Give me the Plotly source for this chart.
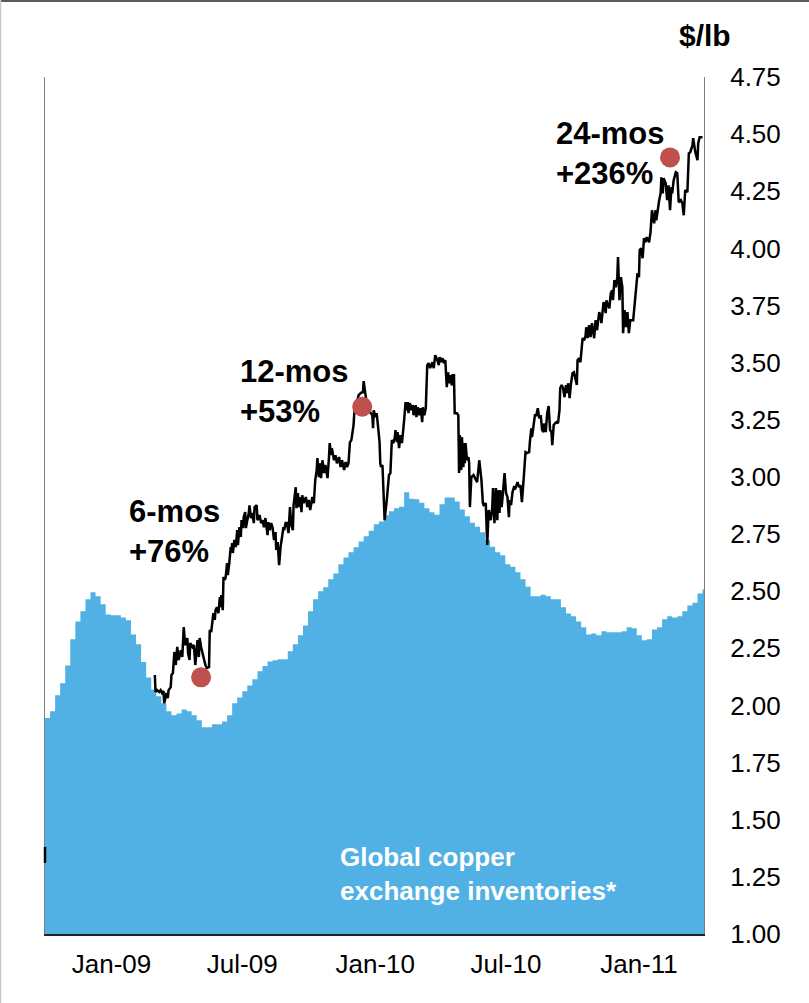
import pandas as pd
import plotly.graph_objects as go

# ---------------- data ----------------
# Global copper exchange inventories, weekly (thousand tonnes, hidden left axis)
inv_start = "2008-10-01"
inventory_kt = [
    378, 390, 418, 439, 470, 516, 547, 565, 586, 598,
    591, 577, 559, 558, 558, 554, 549, 524, 507, 476,
    449, 428, 416, 404, 390, 383, 386, 393, 390, 383,
    374, 362, 362, 367, 367, 372, 383, 404, 414, 425,
    435, 446, 460, 469, 477, 479, 481, 481, 495, 507,
    523, 540, 565, 586, 600, 607, 621, 631, 647, 659,
    668, 677, 687, 696, 706, 717, 722, 733, 740, 745,
    748, 773, 762, 761, 755, 745, 738, 734, 752, 764,
    764, 757, 743, 731, 720, 713, 703, 689, 678, 668,
    663, 647, 643, 633, 621, 608, 591, 591, 594, 591,
    586, 586, 572, 561, 556, 547, 537, 524, 526, 523,
    530, 528, 528, 528, 530, 537, 535, 523, 514, 516,
    533, 537, 551, 556, 554, 556, 565, 575, 580, 596,
    603, 603,
]
inventory_dates = pd.date_range(inv_start, periods=len(inventory_kt), freq="7D")

# Copper price ($/lb)
price_dates = [
    "2009-03-02", "2009-03-03", "2009-03-05", "2009-03-08", "2009-03-10", "2009-03-12", "2009-03-14", "2009-03-15",
    "2009-03-18", "2009-03-20", "2009-03-21", "2009-03-24", "2009-03-25", "2009-03-27", "2009-03-29", "2009-03-31",
    "2009-04-02", "2009-04-04", "2009-04-07", "2009-04-09", "2009-04-11", "2009-04-13", "2009-04-16", "2009-04-17",
    "2009-04-19", "2009-04-20", "2009-04-23", "2009-04-25", "2009-04-27", "2009-04-30", "2009-05-02", "2009-05-03",
    "2009-05-05", "2009-05-07", "2009-05-09", "2009-05-11", "2009-05-13", "2009-05-16", "2009-05-17", "2009-05-19",
    "2009-05-22", "2009-05-24", "2009-05-25", "2009-05-27", "2009-05-29", "2009-05-31", "2009-06-01", "2009-06-02",
    "2009-06-04", "2009-06-05", "2009-06-07", "2009-06-08", "2009-06-10", "2009-06-11", "2009-06-13", "2009-06-15",
    "2009-06-16", "2009-06-17", "2009-06-18", "2009-06-20", "2009-06-22", "2009-06-24", "2009-06-25", "2009-06-27",
    "2009-06-29", "2009-06-30", "2009-07-02", "2009-07-03", "2009-07-05", "2009-07-06", "2009-07-08", "2009-07-10",
    "2009-07-11", "2009-07-13", "2009-07-15", "2009-07-17", "2009-07-18", "2009-07-21", "2009-07-22", "2009-07-25",
    "2009-07-27", "2009-07-29", "2009-07-31", "2009-08-02", "2009-08-05", "2009-08-06", "2009-08-08", "2009-08-10",
    "2009-08-12", "2009-08-14", "2009-08-16", "2009-08-17", "2009-08-19", "2009-08-21", "2009-08-23", "2009-08-25",
    "2009-08-27", "2009-08-28", "2009-08-30", "2009-09-01", "2009-09-03", "2009-09-05", "2009-09-07", "2009-09-09",
    "2009-09-10", "2009-09-13", "2009-09-14", "2009-09-16", "2009-09-17", "2009-09-19", "2009-09-21", "2009-09-22",
    "2009-09-24", "2009-09-27", "2009-09-29", "2009-10-01", "2009-10-03", "2009-10-06", "2009-10-08", "2009-10-10",
    "2009-10-12", "2009-10-13", "2009-10-15", "2009-10-16", "2009-10-18", "2009-10-20", "2009-10-22", "2009-10-24",
    "2009-10-27", "2009-10-29", "2009-10-30", "2009-11-01", "2009-11-02", "2009-11-05", "2009-11-07", "2009-11-09",
    "2009-11-12", "2009-11-14", "2009-11-16", "2009-11-19", "2009-11-21", "2009-11-23", "2009-11-25", "2009-11-27",
    "2009-11-29", "2009-12-02", "2009-12-03", "2009-12-05", "2009-12-07", "2009-12-09", "2009-12-12", "2009-12-14",
    "2009-12-15", "2009-12-16", "2009-12-19", "2009-12-21", "2009-12-23", "2009-12-25", "2009-12-28", "2009-12-29",
    "2009-12-30", "2010-01-01", "2010-01-03", "2010-01-05", "2010-01-07", "2010-01-08", "2010-01-09", "2010-01-11",
    "2010-01-12", "2010-01-13", "2010-01-14", "2010-01-17", "2010-01-18", "2010-01-20", "2010-01-22", "2010-01-24",
    "2010-01-26", "2010-01-28", "2010-01-29", "2010-01-31", "2010-02-01", "2010-02-03", "2010-02-05", "2010-02-07",
    "2010-02-10", "2010-02-12", "2010-02-13", "2010-02-15", "2010-02-16", "2010-02-18", "2010-02-20", "2010-02-22",
    "2010-02-23", "2010-02-26", "2010-02-27", "2010-03-01", "2010-03-03", "2010-03-05", "2010-03-07", "2010-03-08",
    "2010-03-10", "2010-03-12", "2010-03-14", "2010-03-16", "2010-03-18", "2010-03-21", "2010-03-23", "2010-03-25",
    "2010-03-28", "2010-03-30", "2010-03-31", "2010-04-02", "2010-04-04", "2010-04-06", "2010-04-08", "2010-04-10",
    "2010-04-12", "2010-04-13", "2010-04-15", "2010-04-17", "2010-04-18", "2010-04-20", "2010-04-21", "2010-04-24",
    "2010-04-26", "2010-04-27", "2010-04-28", "2010-04-30", "2010-05-01", "2010-05-03", "2010-05-04", "2010-05-05",
    "2010-05-06", "2010-05-08", "2010-05-10", "2010-05-11", "2010-05-12", "2010-05-14", "2010-05-17", "2010-05-20",
    "2010-05-22", "2010-05-25", "2010-05-28", "2010-05-30", "2010-05-31", "2010-06-03", "2010-06-05", "2010-06-07",
    "2010-06-10", "2010-06-12", "2010-06-13", "2010-06-15", "2010-06-17", "2010-06-19", "2010-06-20", "2010-06-22",
    "2010-06-23", "2010-06-25", "2010-06-27", "2010-06-29", "2010-07-01", "2010-07-03", "2010-07-05", "2010-07-06",
    "2010-07-08", "2010-07-10", "2010-07-12", "2010-07-14", "2010-07-17", "2010-07-19", "2010-07-21", "2010-07-23",
    "2010-07-26", "2010-07-28", "2010-07-30", "2010-08-02", "2010-08-03", "2010-08-05", "2010-08-06", "2010-08-08",
    "2010-08-10", "2010-08-12", "2010-08-14", "2010-08-16", "2010-08-18", "2010-08-20", "2010-08-22", "2010-08-23",
    "2010-08-25", "2010-08-27", "2010-08-29", "2010-08-31", "2010-09-02", "2010-09-03", "2010-09-05", "2010-09-07",
    "2010-09-09", "2010-09-11", "2010-09-13", "2010-09-14", "2010-09-16", "2010-09-18", "2010-09-20", "2010-09-22",
    "2010-09-24", "2010-09-25", "2010-09-27", "2010-09-29", "2010-10-01", "2010-10-03", "2010-10-05", "2010-10-07",
    "2010-10-08", "2010-10-10", "2010-10-12", "2010-10-15", "2010-10-17", "2010-10-19", "2010-10-20", "2010-10-22",
    "2010-10-24", "2010-10-26", "2010-10-28", "2010-10-31", "2010-11-02", "2010-11-04", "2010-11-07", "2010-11-09",
    "2010-11-10", "2010-11-12", "2010-11-13", "2010-11-16", "2010-11-17", "2010-11-19", "2010-11-21", "2010-11-23",
    "2010-11-25", "2010-11-26", "2010-11-28", "2010-11-30", "2010-12-02", "2010-12-03", "2010-12-05", "2010-12-07",
    "2010-12-09", "2010-12-10", "2010-12-12", "2010-12-14", "2010-12-16", "2010-12-18", "2010-12-20", "2010-12-24",
    "2010-12-27", "2010-12-30", "2011-01-01", "2011-01-02", "2011-01-04", "2011-01-06", "2011-01-08", "2011-01-10",
    "2011-01-12", "2011-01-15", "2011-01-17", "2011-01-19", "2011-01-22", "2011-01-24", "2011-01-25", "2011-01-27",
    "2011-01-29", "2011-01-31", "2011-02-01", "2011-02-03", "2011-02-04", "2011-02-07", "2011-02-09", "2011-02-11",
    "2011-02-13", "2011-02-15", "2011-02-16", "2011-02-18", "2011-02-21", "2011-02-23", "2011-02-25", "2011-02-28",
    "2011-03-02", "2011-03-04", "2011-03-06", "2011-03-09", "2011-03-11", "2011-03-13", "2011-03-16", "2011-03-17",
    "2011-03-19", "2011-03-20", "2011-03-23", "2011-03-24", "2011-03-26", "2011-03-30",
]
price_usd_lb = [
    2.133, 2.059, 2.067, 2.059, 2.067, 2.054, 2.063, 2.010,
    2.054, 2.032, 2.067, 2.080, 2.133, 2.142, 2.234, 2.177,
    2.256, 2.199, 2.242, 2.212, 2.343, 2.264, 2.295, 2.229,
    2.199, 2.273, 2.256, 2.264, 2.177, 2.286, 2.212, 2.295,
    2.256, 2.229, 2.199, 2.177, 2.164, 2.168, 2.330, 2.321,
    2.404, 2.374, 2.417, 2.430, 2.404, 2.474, 2.430, 2.483,
    2.417, 2.562, 2.549, 2.562, 2.623, 2.570, 2.623, 2.693,
    2.671, 2.710, 2.667, 2.724, 2.693, 2.767, 2.702, 2.780,
    2.737, 2.811, 2.776, 2.824, 2.846, 2.776, 2.811, 2.842,
    2.876, 2.820, 2.842, 2.798, 2.868, 2.876, 2.811, 2.833,
    2.798, 2.811, 2.780, 2.820, 2.745, 2.802, 2.767, 2.798,
    2.776, 2.724, 2.759, 2.680, 2.715, 2.614, 2.693, 2.732,
    2.780, 2.767, 2.798, 2.798, 2.754, 2.868, 2.789, 2.767,
    2.876, 2.955, 2.863, 2.929, 2.868, 2.912, 2.846, 2.920,
    2.885, 2.912, 2.868, 2.899, 2.855, 2.912, 2.885, 2.986,
    3.030, 3.082, 2.999, 3.060, 2.995, 3.073, 3.017, 3.052,
    2.995, 3.087, 3.148, 3.095, 3.126, 3.073, 3.095, 3.060,
    3.087, 3.043, 3.073, 3.030, 3.065, 3.043, 3.060, 3.152,
    3.161, 3.227, 3.279, 3.305, 3.336, 3.358, 3.367, 3.371,
    3.367, 3.419, 3.349, 3.305, 3.292, 3.283, 3.270, 3.213,
    3.292, 3.262, 3.279, 3.218, 3.152, 3.060, 3.043, 3.052,
    2.973, 2.899, 2.811, 2.899, 2.955, 3.008, 3.017, 3.161,
    3.148, 3.170, 3.205, 3.152, 3.196, 3.126, 3.183, 3.148,
    3.248, 3.327, 3.292, 3.327, 3.279, 3.323, 3.292, 3.314,
    3.270, 3.314, 3.262, 3.305, 3.270, 3.301, 3.240, 3.305,
    3.270, 3.301, 3.489, 3.498, 3.476, 3.502, 3.476, 3.533,
    3.511, 3.489, 3.524, 3.502, 3.520, 3.498, 3.511, 3.393,
    3.458, 3.410, 3.445, 3.401, 3.445, 3.445, 3.279, 3.279,
    3.270, 3.017, 3.183, 3.030, 3.174, 3.043, 3.148, 3.060,
    3.148, 3.073, 3.087, 3.060, 2.868, 2.999, 3.008, 2.986,
    2.977, 3.073, 2.986, 2.885, 2.877, 2.885, 2.702, 2.855,
    2.811, 2.868, 2.951, 2.798, 2.951, 2.811, 2.942, 2.842,
    2.942, 2.868, 2.929, 3.017, 2.929, 2.912, 2.824, 2.899,
    2.877, 2.934, 2.955, 2.951, 2.977, 2.955, 2.964, 2.890,
    3.017, 3.108, 3.104, 3.108, 3.152, 3.213, 3.174, 3.218,
    3.270, 3.270, 3.301, 3.257, 3.270, 3.205, 3.196, 3.235,
    3.196, 3.279, 3.310, 3.205, 3.196, 3.139, 3.227, 3.235,
    3.240, 3.235, 3.292, 3.388, 3.402, 3.388, 3.349, 3.402,
    3.367, 3.410, 3.345, 3.410, 3.454, 3.458, 3.423, 3.402,
    3.511, 3.520, 3.502, 3.607, 3.598, 3.616, 3.655, 3.607,
    3.664, 3.612, 3.673, 3.607, 3.686, 3.642, 3.721, 3.699,
    3.673, 3.738, 3.765, 3.717, 3.773, 3.752, 3.738, 3.804,
    3.817, 3.773, 3.861, 3.830, 3.874, 3.962, 3.773, 3.874,
    3.830, 3.629, 3.730, 3.655, 3.721, 3.629, 3.686, 3.686,
    3.804, 3.892, 3.874, 3.992, 4.001, 3.957, 4.045, 4.027,
    4.049, 4.027, 4.071, 4.167, 4.110, 4.167, 4.123, 4.176,
    4.211, 4.241, 4.311, 4.241, 4.307, 4.285, 4.211, 4.276,
    4.167, 4.268, 4.241, 4.298, 4.333, 4.329, 4.202, 4.211,
    4.198, 4.145, 4.255, 4.246, 4.416, 4.421, 4.451, 4.482,
    4.443, 4.421, 4.386, 4.460, 4.486, 4.486,
]

# Highlighted points and their labels
marker_dates = ["2009-05-05", "2009-12-14", "2011-02-13"]
marker_prices = [2.123, 3.307, 4.398]
marker_labels = ["6-mos<br>+76%", "12-mos<br>+53%", "24-mos<br>+236%"]

# Axis ticks
price_ticks = [1.00, 1.25, 1.50, 1.75, 2.00, 2.25, 2.50, 2.75, 3.00, 3.25, 3.50, 3.75, 4.00, 4.25, 4.50, 4.75]
date_ticks = ["2009-01-01", "2009-07-01", "2010-01-01", "2010-07-01", "2011-01-01"]
date_tick_text = ["Jan-09", "Jul-09", "Jan-10", "Jul-10", "Jan-11"]

# ---------------- figure ----------------
FONT = "Liberation Sans, Arial, sans-serif"
BLUE = "#51B1E4"
RED = "#C0504D"

fig = go.Figure()

fig.add_trace(go.Scatter(
    x=inventory_dates, y=inventory_kt, yaxis="y",
    mode="lines", line=dict(width=0, shape="hv", color=BLUE),
    fill="tozeroy", fillcolor=BLUE, hoverinfo="skip",
))

fig.add_trace(go.Scatter(
    x=price_dates, y=price_usd_lb, yaxis="y2",
    mode="lines", line=dict(color="black", width=2.5),
))

fig.add_trace(go.Scatter(
    x=marker_dates, y=marker_prices, yaxis="y2",
    mode="markers", marker=dict(size=20, color=RED),
))

# label positions (left edge / vertical centre of each text block)
label_pos = [("2009-01-23", 2.761), ("2009-06-25", 3.374), ("2010-09-06", 4.416)]
annotations = []
for (lx, ly), txt in zip(label_pos, marker_labels):
    annotations.append(dict(
        x=lx, y=ly, xref="x", yref="y2", text=txt, showarrow=False,
        xanchor="left", yanchor="middle", align="left",
        font=dict(family=FONT, size=31, color="black", weight="bold"),
    ))

annotations.append(dict(
    x=1.0017, y=1.048, xref="paper", yref="paper", text="<b>$/lb</b>",
    showarrow=False, xanchor="center", yanchor="middle",
    font=dict(family=FONT, size=30, color="black"),
))
annotations.append(dict(
    x=0.4443, y=0.070, xref="paper", yref="paper",
    text="<b>Global copper<br>exchange inventories*</b>",
    showarrow=False, xanchor="left", yanchor="middle", align="left",
    font=dict(family=FONT, size=26, color="white"),
))

shapes = [
    # small dark mark on the left axis
    dict(type="line", xref="paper", yref="y2", x0=0, x1=0, y0=1.311, y1=1.381,
         line=dict(color="black", width=2.5)),
    # picture frame (top / left)
    dict(type="line", xref="paper", yref="paper", x0=-0.0683, x1=1.16, y0=1.0887, y1=1.0887,
         line=dict(color="#5a5a5a", width=2)),
    dict(type="line", xref="paper", yref="paper", x0=-0.0675, x1=-0.0675, y0=-0.09, y1=1.09,
         line=dict(color="#c8c8c8", width=1.5)),
]

fig.update_layout(
    width=809, height=1003,
    margin=dict(l=45, r=104.5, t=77, b=69),
    paper_bgcolor="white", plot_bgcolor="white",
    showlegend=False,
    font=dict(family=FONT, size=26, color="black"),
    xaxis=dict(
        type="date", range=["2008-10-01", "2011-04-01"],
        tickvals=date_ticks, ticktext=date_tick_text,
        showline=True, linecolor="#222222", linewidth=1.5,
        ticks="", showgrid=False, zeroline=False,
        tickfont=dict(family=FONT, size=26, color="black"),
        ticklabelstandoff=6,
    ),
    yaxis=dict(
        range=[0, 1500], showticklabels=False, ticks="",
        showgrid=False, zeroline=False,
        showline=True, linecolor="#808080", linewidth=1,
    ),
    yaxis2=dict(
        overlaying="y", side="right", range=[1, 4.75],
        tickvals=price_ticks, tickformat=".2f",
        showline=True, linecolor="#808080", linewidth=1,
        ticks="", showgrid=False, zeroline=False,
        tickfont=dict(family=FONT, size=26, color="black"),
        ticklabelstandoff=20,
    ),
    annotations=annotations,
    shapes=shapes,
)

fig.write_html(
    "out.html",
    config={"displayModeBar": False},
    post_script="document.body.style.margin='0';document.body.style.padding='0';",
)
